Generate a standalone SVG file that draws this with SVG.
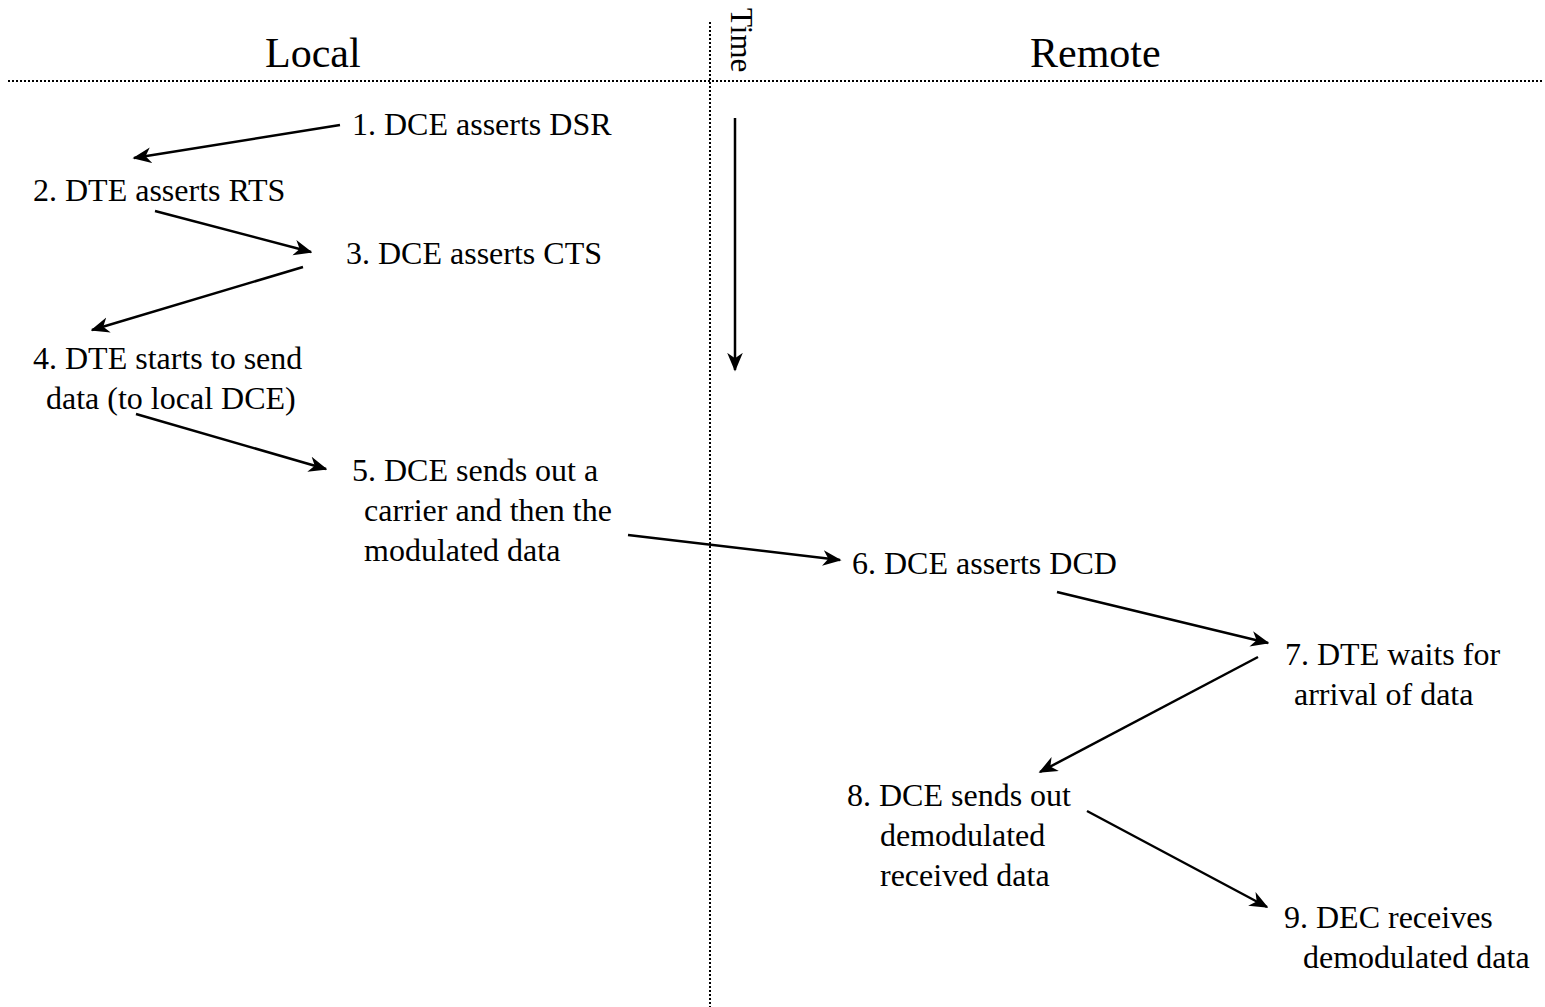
<svg xmlns="http://www.w3.org/2000/svg" width="1545" height="1007" viewBox="0 0 1545 1007">
<style>
.t{font-family:"Liberation Serif","Times New Roman",serif;font-size:32px;fill:#000}
.h{font-family:"Liberation Serif","Times New Roman",serif;font-size:42px;fill:#000}
.dot{stroke:#000;stroke-width:2;stroke-dasharray:2 2;fill:none}
.ar{stroke:#000;stroke-width:2.5;fill:none;marker-end:url(#ah)}
</style>
<defs>
<marker id="ah" viewBox="0 0 12 10" refX="11" refY="5" markerWidth="7.5" markerHeight="6.5" orient="auto" markerUnits="strokeWidth">
<path d="M0,0 L12,5 L0,10 L3.5,5 z" fill="#000"/>
</marker>
</defs>
<rect width="1545" height="1007" fill="#fff"/>
<g id="axes">
<line class="dot" x1="8" y1="81" x2="1543" y2="81"/>
<line class="dot" x1="710" y1="22" x2="710" y2="1007"/>
</g>
<g id="headers">
<text class="h" x="265" y="67">Local</text>
<text class="h" x="1030" y="67">Remote</text>
<text class="t" transform="translate(731,8) rotate(90)" style="font-size:31px">Time</text>
</g>
<g id="connectors">
<line class="ar" x1="735" y1="118" x2="735" y2="370"/>
<line class="ar" x1="340" y1="125" x2="134" y2="158"/>
<line class="ar" x1="155" y1="211" x2="311" y2="252"/>
<line class="ar" x1="303" y1="267" x2="92" y2="330"/>
<line class="ar" x1="136" y1="414" x2="326" y2="469"/>
<line class="ar" x1="628" y1="535" x2="840" y2="560"/>
<line class="ar" x1="1057" y1="592" x2="1268" y2="643"/>
<line class="ar" x1="1258" y1="657" x2="1040" y2="772"/>
<line class="ar" x1="1087" y1="811" x2="1267" y2="907"/>
</g>
<g id="n1"><text class="t" x="352" y="135">1. DCE asserts DSR</text></g>
<g id="n2"><text class="t" x="33" y="201">2. DTE asserts RTS</text></g>
<g id="n3"><text class="t" x="346" y="264">3. DCE asserts CTS</text></g>
<g id="n4"><text class="t" x="33" y="369">4. DTE starts to send</text><text class="t" x="46" y="409">data (to local DCE)</text></g>
<g id="n5"><text class="t" x="352" y="481">5. DCE sends out a</text><text class="t" x="364" y="521">carrier and then the</text><text class="t" x="364" y="561">modulated data</text></g>
<g id="n6"><text class="t" x="852" y="574">6. DCE asserts DCD</text></g>
<g id="n7"><text class="t" x="1285" y="665">7. DTE waits for</text><text class="t" x="1294" y="705">arrival of data</text></g>
<g id="n8"><text class="t" x="847" y="806">8. DCE sends out</text><text class="t" x="880" y="846">demodulated</text><text class="t" x="880" y="886">received data</text></g>
<g id="n9"><text class="t" x="1284" y="928">9. DEC receives</text><text class="t" x="1303" y="968">demodulated data</text></g>
</svg>
